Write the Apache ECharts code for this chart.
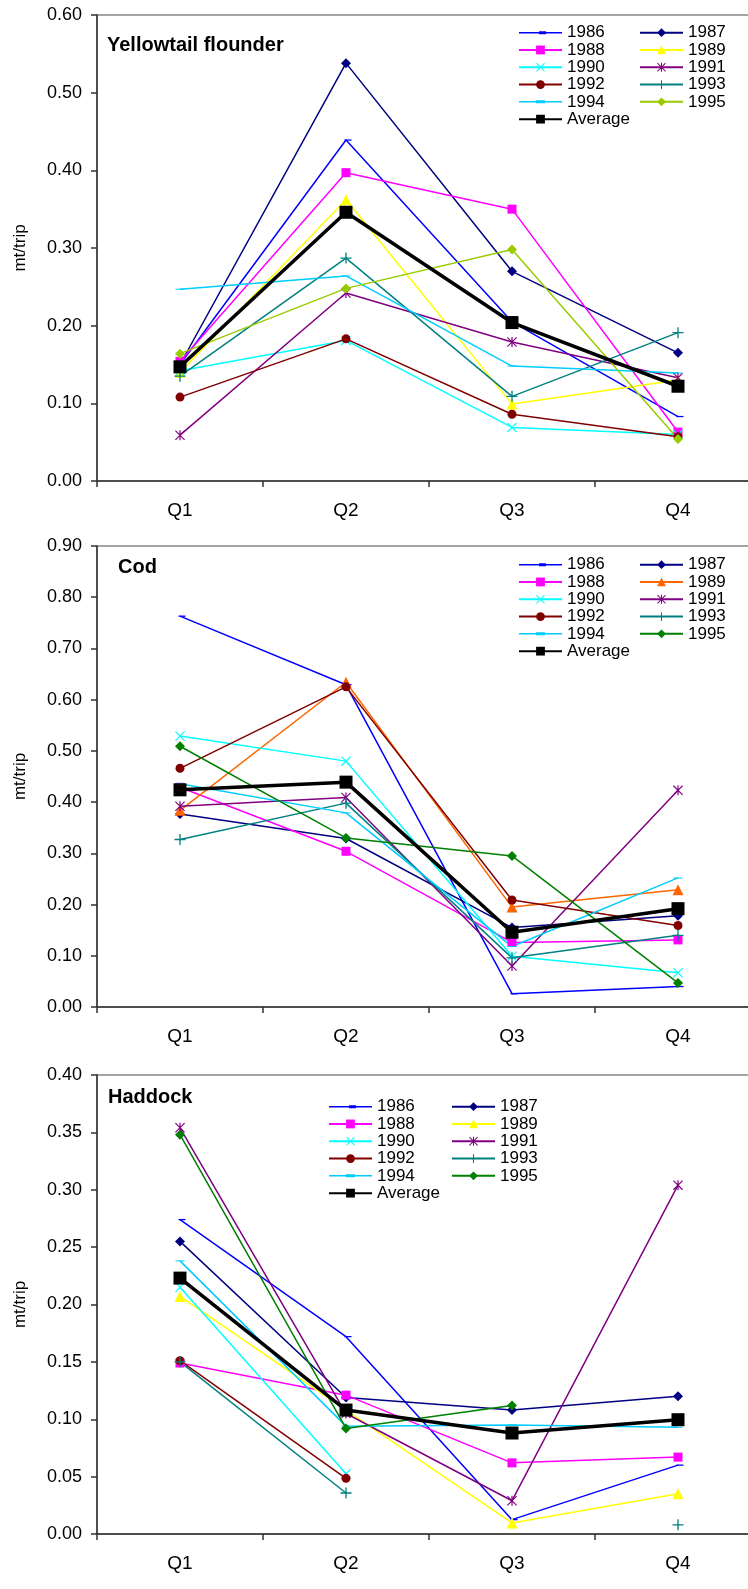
<!DOCTYPE html>
<html>
<head>
<meta charset="utf-8">
<script src="https://cdn.jsdelivr.net/npm/echarts@6/dist/echarts.min.js"></script>
<style>
html, body { margin: 0; padding: 0; background: #fff; overflow: hidden; width: 748px; height: 1589px; }
.panel { position: absolute; left: 0; width: 800px; }
</style>
</head>
<body>
<div id="p1" class="panel" style="top:0;height:530px"></div>
<div id="p2" class="panel" style="top:530px;height:530px"></div>
<div id="p3" class="panel" style="top:1060px;height:529px"></div>
<script>
// 季度和年份
var quarters = ['Q1', 'Q2', 'Q3', 'Q4'];
var years = ['1986', '1987', '1988', '1989', '1990', '1991', '1992', '1993', '1994', '1995'];

// Yellowtail flounder, mt/trip, one row per year
var yellowtailValues = [
    [0.150, 0.439, 0.205, 0.083],
    [0.150, 0.538, 0.270, 0.165],
    [0.154, 0.397, 0.350, 0.063],
    [0.140, 0.362, 0.099, 0.130],
    [0.142, 0.181, 0.069, 0.060],
    [0.059, 0.242, 0.179, 0.133],
    [0.108, 0.183, 0.086, 0.057],
    [0.135, 0.287, 0.109, 0.191],
    [0.247, 0.264, 0.148, 0.139],
    [0.164, 0.248, 0.298, 0.054]
];
var yellowtailAverage = [0.147, 0.346, 0.204, 0.122];

// Cod
var codValues = [
    [0.763, 0.629, 0.026, 0.040],
    [0.377, 0.329, 0.155, 0.178],
    [0.429, 0.304, 0.126, 0.131],
    [0.384, 0.634, 0.195, 0.229],
    [0.529, 0.480, 0.099, 0.067],
    [0.392, 0.409, 0.080, 0.423],
    [0.466, 0.625, 0.209, 0.159],
    [0.327, 0.398, 0.096, 0.140],
    [0.436, 0.379, 0.118, 0.252],
    [0.509, 0.330, 0.295, 0.047]
];
var codAverage = [0.424, 0.439, 0.146, 0.192];

// Haddock (null = no data)
var haddockValues = [
    [0.274, 0.172, 0.0125, 0.060],
    [0.255, 0.119, 0.108, 0.120],
    [0.149, 0.121, 0.062, 0.067],
    [0.207, 0.108, 0.0096, 0.035],
    [0.215, 0.0525, null, null],
    [0.354, 0.105, 0.029, 0.304],
    [0.151, 0.0485, null, null],
    [0.150, 0.0357, null, 0.008],
    [0.238, 0.094, 0.095, 0.093],
    [0.348, 0.092, 0.112, null]
];
var haddockAverage = [0.223, 0.108, 0.088, 0.0996];

var yTicksYellowtail = [0, 0.6, 0.1];
var yTicksCod = [0, 0.9, 0.1];
var yTicksHaddock = [0, 0.4, 0.05];

var colorsYellowtail = ['#0000FF', '#000080', '#FF00FF', '#FFFF00', '#00FFFF', '#800080', '#800000', '#008080', '#00CCFF', '#99CC00'];
var colorsCod = ['#0000FF', '#000080', '#FF00FF', '#FF6600', '#00FFFF', '#800080', '#800000', '#008080', '#00CCFF', '#008000'];
var colorsHaddock = ['#0000FF', '#000080', '#FF00FF', '#FFFF00', '#00FFFF', '#800080', '#800000', '#008080', '#00CCFF', '#008000'];

var FONT = "'Liberation Sans', Arial, sans-serif";

// 标记形状
var PLUS = 'path://M4.4,0H5.6V10H4.4Z M0,4.4H10V5.6H0Z';
var CROSS = 'path://M0,0.8L0.8,0L10,9.2L9.2,10Z M9.2,0L10,0.8L0.8,10L0,9.2Z';
var STAR = 'path://M0,0.8L0.8,0L10,9.2L9.2,10Z M9.2,0L10,0.8L0.8,10L0,9.2Z M4.4,0H5.6V10H4.4Z';
var DASH_S = 'path://M0,0H7V3H0Z';
var DASH_L = 'path://M0,0H9V3H0Z';
// legend icons (line + dash) for the dash-marker years
var LEG_DASH_S = 'path://M0,0.75H43V2.25H0Z M20,0H27V3H20Z';
var LEG_DASH_L = 'path://M0,0.75H43V2.25H0Z M17,0H26V3H17Z';
var markers = [
    {symbol: DASH_S, size: [7, 3], offset: [2, 0]},
    {symbol: 'diamond', size: 10},
    {symbol: 'rect', size: 9},
    {symbol: 'triangle', size: 11},
    {symbol: CROSS, size: 10},
    {symbol: STAR, size: 10},
    {symbol: 'circle', size: 9},
    {symbol: PLUS, size: 11},
    {symbol: DASH_L, size: [9, 3]},
    {symbol: 'diamond', size: 10}
];

function drawPanel(domId, cfg) {
    var chart = echarts.init(document.getElementById(domId));
    var series = [];
    for (var i = 0; i < years.length; i++) {
        series.push({
            name: years[i],
            type: 'line',
            data: cfg.values[i],
            symbol: markers[i].symbol,
            symbolSize: markers[i].size,
            symbolOffset: markers[i].offset || [0, 0],
            symbolKeepAspect: true,
            showAllSymbol: true,
            connectNulls: false,
            animation: false,
            lineStyle: {color: cfg.colors[i], width: 1.5},
            itemStyle: {color: cfg.colors[i], borderWidth: 0}
        });
    }
    series.push({
        name: 'Average',
        type: 'line',
        data: cfg.average,
        symbol: 'rect',
        symbolSize: 13,
        animation: false,
        lineStyle: {color: '#000', width: 3.5},
        itemStyle: {color: '#000', borderWidth: 0}
    });

    var legendBase = {
        orient: 'vertical',
        top: cfg.legendTop,
        padding: 0,
        itemWidth: 43,
        itemHeight: 11,
        itemGap: 0,
        symbolKeepAspect: true,
        selectedMode: false,
        textStyle: {fontFamily: FONT, fontSize: 17, lineHeight: 17.3, color: '#000'}
    };

    var option = {
        animation: false,
        title: {
            text: cfg.title,
            left: cfg.titleLeft,
            top: cfg.titleTop,
            padding: 0,
            textStyle: {fontFamily: FONT, fontSize: 20, fontWeight: 'bold', color: '#000'}
        },
        legend: [
            Object.assign({}, legendBase, {
                left: cfg.legendLeft[0],
                data: [{name: '1986', icon: LEG_DASH_S}, '1988', '1990', '1992', {name: '1994', icon: LEG_DASH_L}, 'Average']
            }),
            Object.assign({}, legendBase, {left: cfg.legendLeft[1], data: ['1987', '1989', '1991', '1993', '1995']})
        ],
        grid: {
            left: 97,
            top: cfg.gridTop,
            width: 664,
            height: cfg.gridHeight,
            show: true,
            borderColor: '#888',
            borderWidth: 1.5,
            backgroundColor: 'transparent'
        },
        xAxis: {
            type: 'category',
            data: quarters,
            boundaryGap: true,
            axisLine: {lineStyle: {color: '#333', width: 1.5}},
            axisTick: {show: true, inside: false, length: 6, alignWithLabel: false, lineStyle: {color: '#333', width: 1.5}},
            axisLabel: {fontFamily: FONT, fontSize: 19, color: '#000', margin: 20},
            splitLine: {show: false}
        },
        yAxis: {
            type: 'value',
            min: cfg.yTicks[0],
            max: cfg.yTicks[1],
            interval: cfg.yTicks[2],
            name: 'mt/trip',
            nameLocation: 'middle',
            nameRotate: 90,
            nameGap: 68,
            nameTextStyle: {fontFamily: FONT, fontSize: 17, color: '#000'},
            axisLine: {show: true, lineStyle: {color: '#333', width: 1.5}},
            axisTick: {show: true, inside: false, length: 6, lineStyle: {color: '#333', width: 1.5}},
            axisLabel: {
                fontFamily: FONT, fontSize: 18, color: '#000', margin: 15,
                formatter: function (v) { return v.toFixed(2); }
            },
            splitLine: {show: false}
        },
        series: series
    };
    chart.setOption(option);
}

drawPanel('p1', {
    title: 'Yellowtail flounder', titleLeft: 107, titleTop: 35,
    values: yellowtailValues, average: yellowtailAverage, colors: colorsYellowtail,
    yTicks: yTicksYellowtail, gridTop: 15, gridHeight: 466,
    legendTop: 24, legendLeft: [518, 639]
});
drawPanel('p2', {
    title: 'Cod', titleLeft: 118, titleTop: 27,
    values: codValues, average: codAverage, colors: colorsCod,
    yTicks: yTicksCod, gridTop: 16, gridHeight: 461,
    legendTop: 26, legendLeft: [518, 639]
});
drawPanel('p3', {
    title: 'Haddock', titleLeft: 108, titleTop: 27,
    values: haddockValues, average: haddockAverage, colors: colorsHaddock,
    yTicks: yTicksHaddock, gridTop: 15, gridHeight: 459,
    legendTop: 38, legendLeft: [328, 451]
});
</script>
</body>
</html>
